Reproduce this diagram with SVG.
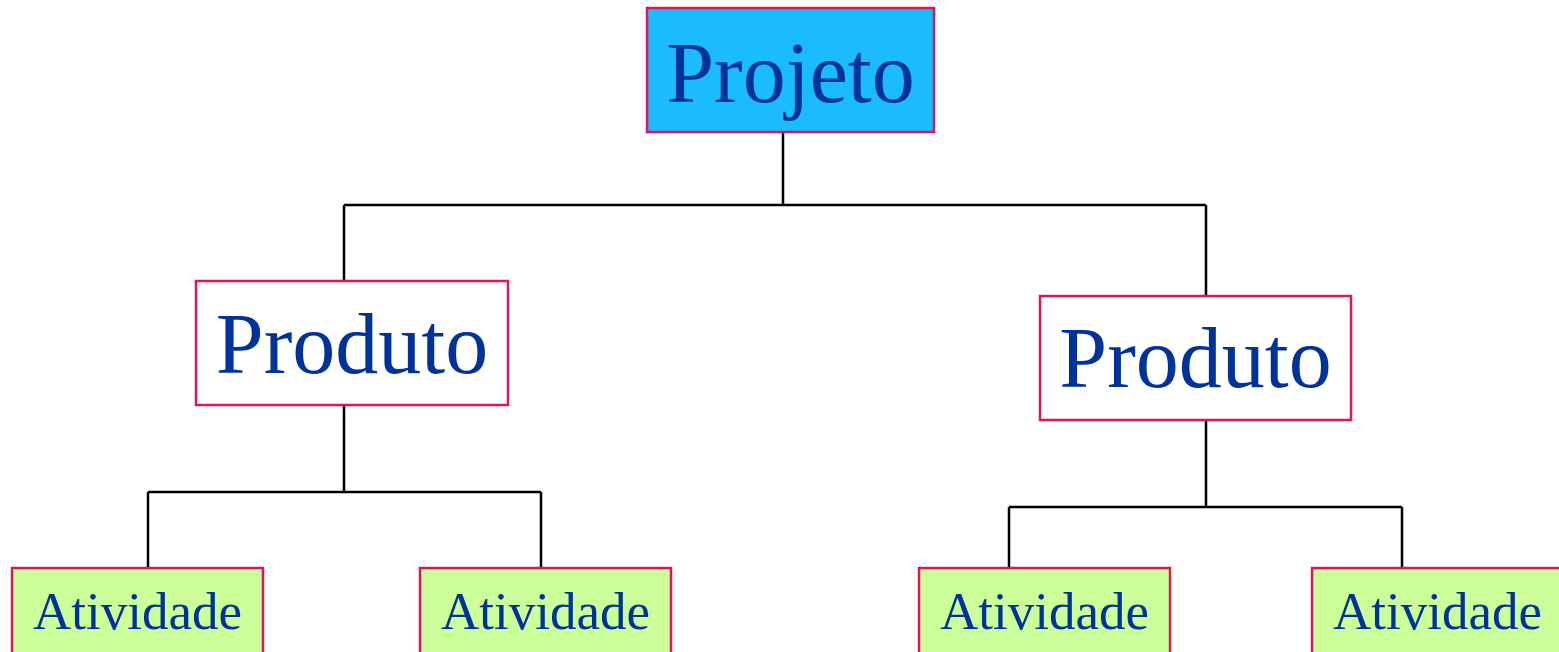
<svg xmlns="http://www.w3.org/2000/svg" width="1559" height="652" viewBox="0 0 1559 652">
<style>
.box{stroke:#E0145C;stroke-width:2.5}
.top{fill:#1ABBFF}
.mid{fill:#FFFFFF}
.leaf{fill:#CCFF99}
text{font-family:"Liberation Serif","Times New Roman",serif;fill:#003399;text-anchor:middle}
.big{font-size:86px}
.small{font-size:53px}
.conn{stroke:#000;stroke-width:2.5;fill:none}
</style>
<rect width="1559" height="652" fill="#fff"/>
<g id="connectors">
<path class="conn" d="M783 132V205M344 205H1206M344 205V281M1206 205V296"/>
<path class="conn" d="M344 405V492M148 492H541M148 492V568M541 492V568"/>
<path class="conn" d="M1206 420V507M1009 507H1402M1009 507V568M1402 507V568"/>
</g>
<g id="projeto">
<rect class="box top" x="647" y="8" width="287" height="124"/>
<text class="big" x="790.5" y="102">Projeto</text>
</g>
<g id="produto1">
<rect class="box mid" x="196" y="281" width="312" height="124"/>
<text class="big" x="352" y="373">Produto</text>
</g>
<g id="produto2">
<rect class="box mid" x="1040" y="296" width="311" height="124"/>
<text class="big" x="1195.5" y="387">Produto</text>
</g>
<g id="atividade1">
<rect class="box leaf" x="12" y="568" width="251" height="100"/>
<text class="small" x="137.5" y="629">Atividade</text>
</g>
<g id="atividade2">
<rect class="box leaf" x="420" y="568" width="251" height="100"/>
<text class="small" x="545.5" y="629">Atividade</text>
</g>
<g id="atividade3">
<rect class="box leaf" x="919" y="568" width="251" height="100"/>
<text class="small" x="1044.5" y="629">Atividade</text>
</g>
<g id="atividade4">
<rect class="box leaf" x="1312" y="568" width="251" height="100"/>
<text class="small" x="1437.5" y="629">Atividade</text>
</g>
</svg>
